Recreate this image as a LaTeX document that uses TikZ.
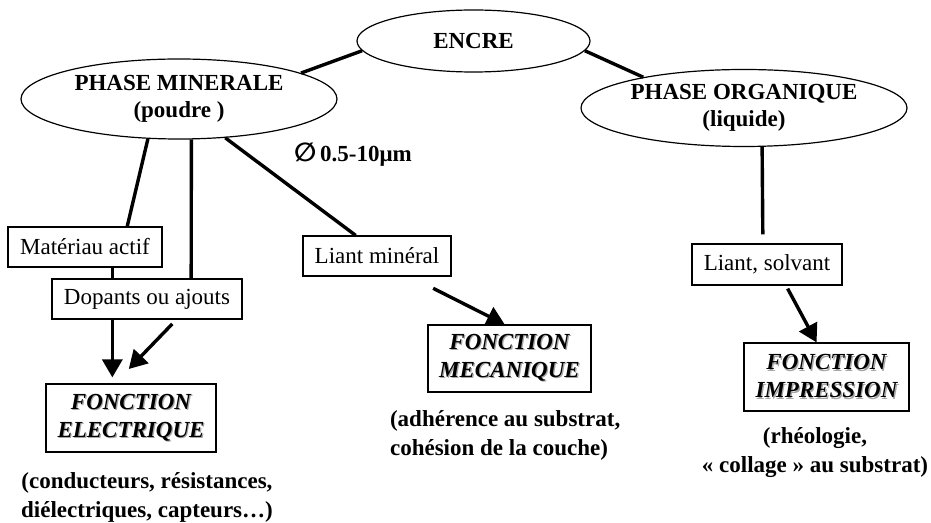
\documentclass[tikz,border=0pt]{standalone}
\usepackage{fontspec}
\setmainfont{Liberation Serif}
\newfontfamily\symbole{DejaVu Sans}
\usetikzlibrary{shapes.geometric,arrows.meta}
\newcommand{\ombre}[1]{\makebox[0pt][l]{\hspace{0.6pt}\raisebox{-0.6pt}{\textcolor{black!35}{#1}}}#1}

\begin{document}
\begin{tikzpicture}[x=0.5pt,y=-0.5pt,
  every node/.style={font=\fontsize{11.5}{14}\selectfont},
  phase/.style={ellipse,draw,line width=0.6pt,inner sep=0pt,align=center,
    font=\fontsize{11.5}{13.5}\selectfont\bfseries},
  boite/.style={draw,line width=0.6pt,fill=white,inner sep=0pt,minimum height=20pt},
  fonction/.style={draw,line width=0.6pt,inner sep=0pt,align=center,minimum height=34pt,
    font=\fontsize{11.5}{14}\selectfont\bfseries\itshape},
  note/.style={align=center,font=\fontsize{11.5}{14.5}\selectfont\bfseries},
  lien/.style={line width=1.7pt},
  fleche/.style={line width=1.7pt,-{Triangle[length=9pt,width=10pt]}}]
  \useasboundingbox (0,0) rectangle (931,523);
  \node[phase,minimum width=116.5pt,minimum height=31pt] (encre) at (473.5,41) {ENCRE};
  \node[phase,minimum width=158pt,minimum height=40pt] (pm) at (179,99) {PHASE MINERALE\\(poudre )};
  \node[phase,minimum width=163pt,minimum height=38.5pt] (po) at (744,108) {PHASE ORGANIQUE\\(liquide)};
  \draw[lien] (pm.12) -- (encre.185);
  \draw[lien] (encre.355) -- (po.163);
  \node[anchor=west,font=\fontsize{11.5}{14}\selectfont\bfseries] (diam) at (287,155)
    {{\symbole\fontsize{13}{14}\selectfont ∅}\,0.5-10μm};

  \node[boite,minimum width=77pt] (ma) at (85,247) {Matériau actif};
  \node[fonction,minimum width=85pt] (fe) at (131,418) {\ombre{FONCTION}\\\ombre{ELECTRIQUE}};
  \draw[fleche] (ma.323) -- (ma.323 |- fe.north) [shorten >=3pt];
  \node[boite,minimum width=95pt] (da) at (147,299) {Dopants ou ajouts};
  \draw[lien] (pm.232) -- (ma.26);
  \draw[lien] (pm.287) -- (da.25);
  \draw[fleche,shorten <=3pt,shorten >=10pt] (da.325) -- (fe.115);
  \node[note] (nfe) at (147,497) {(conducteurs, résistances,\\diélectriques, capteurs…)};

  \node[boite,minimum width=74pt] (lm) at (377,256) {Liant minéral};
  \node[fonction,minimum width=81.5pt,minimum height=33.5pt] (fm) at (509.5,358.5) {\ombre{FONCTION}\\\ombre{MECANIQUE}};
  \draw[lien] (pm.320) -- (lm.136);
  \draw[fleche,shorten <=13pt] (lm.328) -- (fm.98);
  \node[note,align=left,anchor=west] (nfm) at (383,435.5) {(adhérence au substrat,\\cohésion de la couche)};

  \node[boite,minimum width=75pt,minimum height=20.5pt] (ls) at (767,264.5) {Liant, solvant};
  \node[fonction,minimum width=82.5pt] (fi) at (826.5,377) {\ombre{FONCTION}\\\ombre{IMPRESSION}};
  \draw[lien,shorten >=4.5pt] (po.295) -- (ls.101);
  \draw[fleche,shorten <=1.7pt] (ls.312) -- (fi.106);
  \node[note] (nfi) at (815,453) {(rhéologie,\\« collage » au substrat)};
\end{tikzpicture}
\end{document}
